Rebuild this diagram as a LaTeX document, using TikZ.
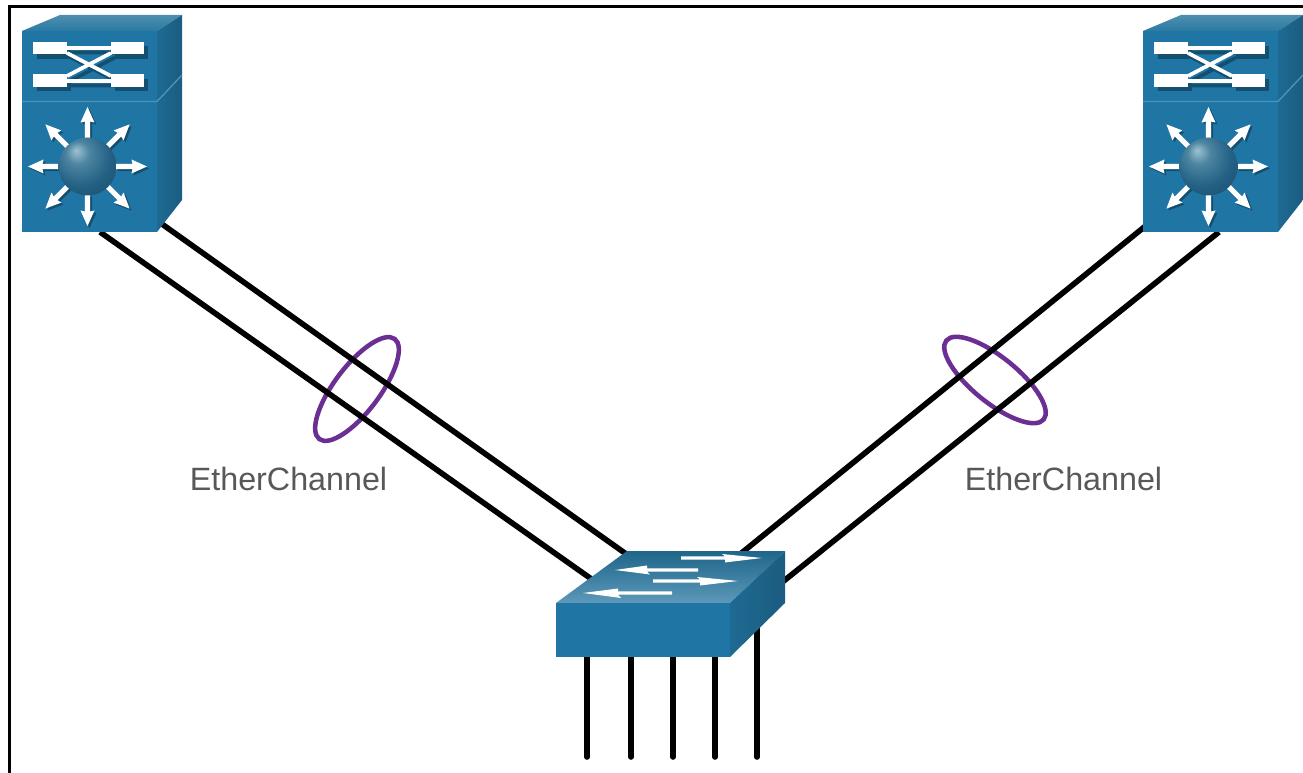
\documentclass[tikz,border=0pt]{standalone}
\usepackage{fontspec}
\setmainfont{Liberation Sans}
\usetikzlibrary{calc,shapes.geometric}
\definecolor{front}{HTML}{1F76A5}
\definecolor{sideA}{HTML}{1E6A93}
\definecolor{sideB}{HTML}{1C5C80}
\definecolor{topBack}{HTML}{4E8FAD}
\definecolor{topFront}{HTML}{2A7AA4}
\definecolor{swBack}{HTML}{1F668A}
\definecolor{swFront}{HTML}{5C98B9}
\definecolor{rim}{HTML}{4C95B7}
\definecolor{shadowc}{HTML}{154F70}
\definecolor{bundle}{HTML}{6B2F93}
\definecolor{labelc}{HTML}{58585A}
\pgfdeclareradialshading{sphereshade}{\pgfpoint{-10bp}{14bp}}{%
  rgb(0bp)=(0.62,0.76,0.82);
  rgb(10bp)=(0.30,0.52,0.63);
  rgb(25bp)=(0.14,0.38,0.52);
  rgb(45bp)=(0.09,0.28,0.40);
  rgb(60bp)=(0.08,0.25,0.37)}
\newcommand{\radialarrowshape}{%
  \fill (28,-2.6)--(45,-2.6)--(44,-7)--(59.5,0)--(44,7)--(45,2.6)--(28,2.6)--cycle;}
\newcommand{\crossbarshape}{%
  \fill (33,42) rectangle (67,54.5);
  \fill (111,42) rectangle (144,54.5);
  \fill (33,74.5) rectangle (67,87);
  \fill (111,74.5) rectangle (144,87);
  \draw[line width=2.8pt] (67,48)--(111,48) (67,81)--(111,81) (67,53)--(111,76) (67,76)--(111,53);}
\tikzset{
  footprint/.style={rectangle,inner sep=0pt,outer sep=0pt},
  link/.style={line width=4.2pt,black,line cap=butt},
  droplink/.style={line width=4.2pt,black,line cap=round},
  frameline/.style={line width=1.9pt,black},
  bundlering/.style={ellipse,draw=bundle,line width=3.4pt,inner sep=0pt,outer sep=0pt,
    minimum width=94pt,minimum height=34pt},
  tag/.style={text=labelc,font=\fontsize{24.2}{28}\selectfont,anchor=base,inner sep=0pt},
  pics/corestack/.style={code={
    \shade[bottom color=topFront,top color=topBack] (22,31)--(60,15)--(182,15)--(157,31)--cycle;
    \shade[left color=sideA,right color=sideB] (157,31)--(182,15)--(182,200)--(157,232)--cycle;
    \fill[front] (22,31) rectangle (157,232);
    \draw[rim,line width=1pt] (22,101.5)--(157,101.5)--(182,75);
    \begin{scope}[shift={(4,4.5)},shadowc]
      \crossbarshape
    \end{scope}
    \begin{scope}[white]
      \crossbarshape
    \end{scope}
    \foreach \ang in {0,45,...,315}{
      \begin{scope}[shift={(89.5,168.5)},rotate=\ang,shadowc]
        \radialarrowshape
      \end{scope}
    }
    \foreach \ang in {0,45,...,315}{
      \begin{scope}[shift={(87.5,166.5)},rotate=\ang,white]
        \radialarrowshape
      \end{scope}
    }
    \shade[shading=sphereshade] (87.5,166.5) circle[radius=21.75pt];
  }},
  pics/accesstop/.style={code={
    \shade[top color=swBack,bottom color=swFront] (556,603)--(627,551)--(785,551)--(730,603)--cycle;
    \shade[left color=sideA,right color=sideB] (730,603)--(785,551)--(785,603)--(730,657)--cycle;
    \fill[front] (556,603) rectangle (730,657);
    \fill[white] (681,556.4)--(725,556.4)--(722,554)--(762,558)--(725,562.5)--(725,559.6)--(681,559.6)--cycle;
    \fill[white] (615,570)--(647,565.5)--(647,568.4)--(698,568.4)--(698,571.6)--(647,571.6)--(650,574.5)--cycle;
    \fill[white] (653,579.4)--(700,579.4)--(697,577)--(738,581)--(700,585.5)--(700,582.6)--(653,582.6)--cycle;
    \fill[white] (583,593)--(618,588.5)--(618,591.4)--(672,591.4)--(672,594.6)--(618,594.6)--(621,598)--cycle;
  }}
}
\begin{document}
\begin{tikzpicture}[x=0.75pt,y=-0.75pt]
\useasboundingbox (0,0) rectangle (1303,773);
\fill[white] (0,0) rectangle (1303,773);
% frame
\coordinate (fbl) at (9.5,773);
\coordinate (ftl) at (9.5,6.5);
\coordinate (ftr) at (1303,6.5);
\draw[frameline] (fbl)--(ftl)--(ftr);
% device footprints
\node[footprint,minimum width=120pt,minimum height=162.75pt] (coreL) at (102,123.5) {};
\node[footprint,minimum width=120pt,minimum height=162.75pt] (coreR) at (1223,123.5) {};
\node[footprint,minimum width=171.75pt,minimum height=79.5pt] (sw) at (670.5,604) {};
% purple bundle rings
\node[bundlering,rotate=53] (ringL) at (357,389) {};
\node[bundlering,rotate=-39] (ringR) at (995,380) {};
% uplinks
\draw[link] ($(coreL.south)+(-2,0)$) -- ($(sw.north west)+(48,36.9)$);
\draw[link] ($(coreL.south east)+(-25,-11.5)$) -- ($(sw.north west)+(80,10)$);
\draw[link] ($(coreR.south west)+(12,-13.7)$) -- ($(sw.north west)+(174,11.3)$);
\draw[link] ($(coreR.south)+(-4,0)$) -- ($(sw.north west)+(214,41)$);
% access drops
\coordinate (d1) at (587,757);
\coordinate (d2) at (631,757);
\coordinate (d3) at (673,757);
\coordinate (d4) at (715,757);
\coordinate (d5) at (757,757);
\foreach \d in {d1,d2,d3,d4,d5}{\draw[droplink] (\d |- sw.center) -- (\d);}
% devices
\pic at (0,0) {corestack};
\pic at (1121,0) {corestack};
\pic at (0,0) {accesstop};
% labels
\node[tag] (labL) at (288.5,490) {EtherChannel};
\node[tag] (labR) at (1063.5,490) {EtherChannel};
\end{tikzpicture}
\end{document}
